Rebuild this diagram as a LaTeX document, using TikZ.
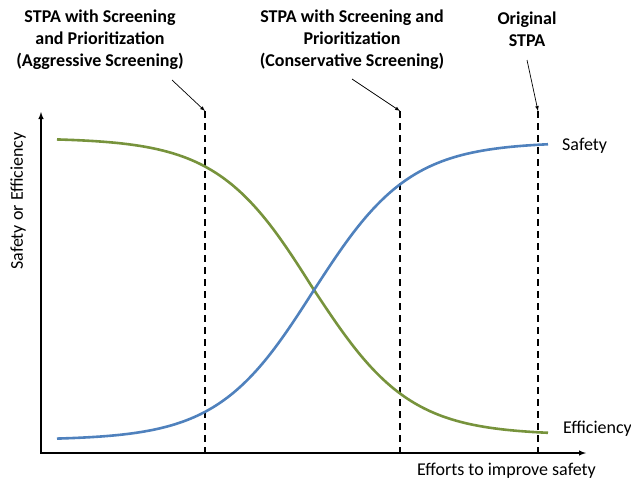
\documentclass[tikz,border=0pt]{standalone}
\usepackage{fontspec}
\setmainfont{Carlito}
\usepackage{tikz}
\usetikzlibrary{positioning}
\definecolor{safetyblue}{RGB}{79,129,189}
\definecolor{effgreen}{RGB}{119,147,60}
\tikzset{title node/.style={align=center,font=\bfseries\fontsize{18}{22}\selectfont,inner sep=0pt},
         label node/.style={font=\fontsize{18}{20}\selectfont,inner sep=0pt},
         guide/.style={dashed,line width=1.4pt,dash pattern=on 7pt off 5pt},
         pointer/.style={->,>=latex,line width=0.7pt},
         curve/.style={line width=2.6pt,domain=57:548,samples=80,smooth},}

\begin{document}
\begin{tikzpicture}[x=1pt,y=-1pt]
        \useasboundingbox (0,0) rectangle (631,482);
        % Axes
        \coordinate (o) at (41,453);
        \coordinate (xend) at (586,453);
        \coordinate (yend) at (41,112);
        \draw[<->,>=latex,line width=1.4pt] (yend) -- (o) -- (xend);
        \node[label node,rotate=90] (ylab) at (18,201) {Safety or Efficiency};
        \node[label node,anchor=west] (xlab) at (417,471) {Efforts to improve safety};
        % Titles
        \node[title node] (aggr) at (100,40) {STPA with Screening\\and Prioritization\\(Aggressive Screening)};
        \node[title node] (cons) at (352,40) {STPA with Screening and\\Prioritization\\(Conservative Screening)};
        \node[title node] (orig) at (527,29) {Original\\STPA};
        % Dashed lines
        \coordinate (aggrtop) at (205,111);
        \coordinate (constop) at (400,111);
        \coordinate (origtop) at (538,111);
        \draw[guide] (aggrtop) -- (aggrtop |- o);
        \draw[guide] (constop) -- (constop |- o);
        \draw[guide] (origtop) -- (origtop |- o);
        % Pointers
        \coordinate (aggrfrom) at (172,80);
        \coordinate (consfrom) at (352,79);
        \coordinate (origfrom) at (527,60);
        \draw[pointer] (aggrfrom) -- (aggrtop);
        \draw[pointer] (consfrom) -- (constop);
        \draw[pointer] (origfrom) -- (origtop);
        % Curves
        \draw[curve,effgreen] plot (\x,{290+(\x<314 ? 152 : 145)*tanh(0.0104*(\x-314))});
        \draw[curve,safetyblue] plot (\x,{290-(\x<314 ? 150 : 148)*tanh(0.0104*(\x-314))});
        \node[label node,anchor=west] (safety) at (562,146) {Safety};
        \node[label node,anchor=west] (eff) at (563,429) {Efficiency};
    \end{tikzpicture}
\end{document}
